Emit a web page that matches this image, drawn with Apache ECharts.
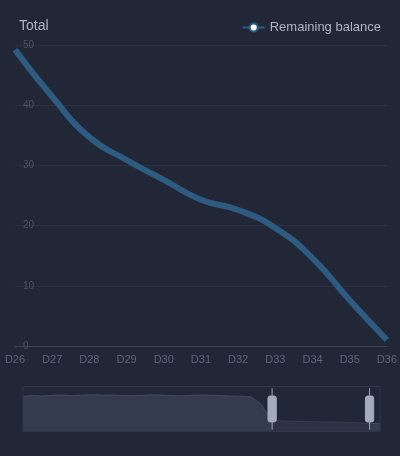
<!DOCTYPE html>
<html>
<head>
<meta charset="utf-8">
<script src="https://cdn.jsdelivr.net/npm/echarts@6/dist/echarts.min.js"></script>
<style>
  html, body { margin: 0; padding: 0; background: #222738; }
  #chart { width: 400px; height: 456px; }
</style>
</head>
<body>
<div id="chart"></div>
<script>
// categories: day index, the slider window shows the last part
const days = [];
for (let i = 1; i <= 37; i++) days.push("D" + i);

// values (early part only visible as slider shadow)
const balance = [
  420, 430, 425, 435, 440, 430, 438, 445, 436, 440,
  432, 428, 436, 442, 438, 430, 426, 434, 440, 436,
  430, 424, 420, 410, 300,
  49.2, 41.4, 34.7, 30.9, 27.6, 24.3, 22.6, 19.6, 14.6, 7.6, 1.0,
  0.5
];

const chart = echarts.init(document.getElementById("chart"));
window.addEventListener("resize", () => chart.resize());

chart.setOption({
  backgroundColor: "#222738",
  title: {
    text: "Total",
    left: 14,
    top: 14,
    textStyle: { color: "#aeb4c2", fontSize: 14, fontWeight: "normal" }
  },
  legend: {
    right: 14,
    top: 16,
    itemWidth: 22,
    itemHeight: 10,
    textStyle: { color: "#aeb4c2", fontSize: 13 },
    data: ["Remaining balance"]
  },
  grid: { left: 15, right: 10, top: 45, bottom: 110 },
  xAxis: {
    type: "category",
    data: days,
    boundaryGap: false,
    axisLine: { lineStyle: { color: "#3a4256" } },
    axisTick: { show: false },
    axisLabel: { color: "#5c6579", fontSize: 11 }
  },
  yAxis: {
    type: "value",
    min: 0,
    max: 50,
    interval: 10,
    axisLabel: { inside: true, color: "#4a5366", fontSize: 10 },
    splitLine: { lineStyle: { color: "#2a3042" } }
  },
  dataZoom: [{
    type: "slider",
    left: 20,
    right: 22,
    bottom: 24,
    height: 46,
    startValue: 25,
    endValue: 35,
    borderColor: "#2f3648",
    fillerColor: "rgba(34,39,56,0.4)",
    dataBackground: {
      lineStyle: { color: "#56627a", width: 0.5 },
      areaStyle: { color: "#56627a", opacity: 0.35 }
    },
    selectedDataBackground: {
      lineStyle: { color: "#56627a", width: 0.5 },
      areaStyle: { color: "#56627a", opacity: 0.35 }
    },
    handleSize: "90%",
    handleStyle: { color: "#a3acbf", borderColor: "#a3acbf" },
    textStyle: { color: "transparent" },
    moveHandleSize: 0
  }],
  series: [{
    name: "Remaining balance",
    type: "line",
    data: balance,
    smooth: true,
    showSymbol: false,
    lineStyle: { color: "#2e5b80", width: 6 },
    itemStyle: { color: "#2e5b80" }
  }]
});
</script>
</body>
</html>
